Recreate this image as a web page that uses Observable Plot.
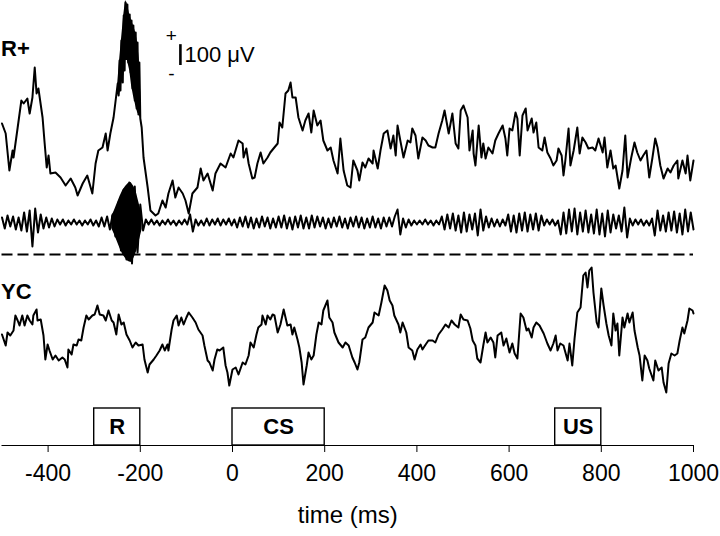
<!DOCTYPE html>
<html><head><meta charset="utf-8">
<script src="https://cdn.jsdelivr.net/npm/d3@7"></script>
<script src="https://cdn.jsdelivr.net/npm/@observablehq/plot@0.6"></script>
<style>body{margin:0;background:#fff}svg{display:block}</style>
</head><body><div id="chart"></div>
<script>
// ---- data (time in ms, amplitude in units of ~4.8 µV, relative to each trace's baseline) ----
const rPlusT = [-500,-492,-484,-477,-475,-466,-458,-453,-445,-440,-434,-429,-425,-421,-412,-408,-403,-399,-395,-384,-373,-362,-351,-341,-336,-325,-315,-304,-297,-291,-282,-275,-271,-265,-258,-249,
-247,-245,-243,-241,-238,-236,-234,-232,-230,-228,-226,-223,-221,-219,-217,-215,-212,-210,-208,-206,-204,-202,-200,-197,
-193,-184,-178,-167,-161,-152,-145,-139,-130,-124,-117,-108,-102,-95,-87,-76,-69,-63,-54,-43,-37,-26,-15,-4,2,13,22,24,30,35,43,48,54,61,67,76,82,89,98,102,108,115,121,126,130,137,143,152,158,165,171,176,184,191,197,206,213,219,228,234,241,249,256,262,271,275,282,288,295,304,306,315,321,328,336,343,349,354,358,364,371,380,386,390,397,403,412,419,425,434,440,447,455,460,469,477,484,490,495,501,510,514,521,523,527,534,540,544,549,555,564,570,577,586,592,596,601,607,614,618,623,629,636,640,649,653,659,664,672,677,683,690,696,703,707,714,718,722,729,733,740,748,753,759,766,772,781,787,794,803,807,813,820,826,831,839,846,852,857,865,872,878,885,891,898,904,911,917,922,928,935,944,950,957,965,967,976,983,987,993,1000];
const rPlusV = [77,67,30,50,43,73,100,97,102,87,103,133,107,112,83,60,33,45,27,28,23,15,22,13,5,17,25,7,37,50,53,67,50,67,83,117,
105,140,110,160,118,185,130,198,142,196,138,186,128,180,112,175,100,168,92,158,86,138,82,73,
43,13,-10,-15,-13,0,-7,7,20,3,13,7,0,-13,7,13,32,20,27,10,27,37,33,47,43,60,57,43,52,37,22,23,37,48,37,43,48,52,57,78,73,107,110,118,103,103,83,70,80,87,68,90,75,80,60,50,53,40,27,62,30,15,13,40,30,20,38,33,42,37,50,32,50,67,70,52,65,45,75,60,43,60,58,72,65,42,63,60,55,53,53,67,80,90,67,87,57,52,90,95,83,50,70,47,35,75,43,57,42,53,47,60,67,75,62,45,72,70,88,82,45,85,92,70,82,68,78,53,50,63,48,42,35,40,52,45,25,40,72,35,50,73,47,63,58,52,53,50,62,48,63,33,50,32,35,12,30,65,23,43,58,48,40,45,50,23,43,62,53,35,22,32,28,35,40,22,40,27,45,20,40];
// envelope of the ripple burst riding on R+ (upper / lower edge)
const rPlusBurstT = [-249,-245,-241,-236,-232,-228,-223,-219,-215,-210,-206,-202,-198];
const rPlusBurstHi = [117,140,160,185,200,196,186,180,175,168,158,140,95];
const rPlusBurstLo = [112,105,115,125,140,140,130,115,105,95,88,85,80];

const ycT = [-500,-492,-488,-482,-475,-471,-466,-462,-456,-451,-445,-440,-434,-432,-425,-423,-416,-410,-406,-401,-397,-390,-384,-377,-369,-364,-358,-356,-349,-345,-338,-334,-328,-323,-317,-312,-304,-299,-293,-288,-280,-275,-269,-262,-258,-252,-247,-241,-236,-230,-223,-217,-210,-204,-195,-191,-184,-180,-171,-165,-158,-152,-147,-141,-139,-132,-128,-121,-117,-111,-106,-100,-95,-87,-80,-74,-65,-61,-54,-50,-43,-39,-33,-28,-20,-15,-11,-7,0,7,13,22,28,35,39,46,52,56,63,65,72,76,82,87,91,98,104,111,119,126,130,134,141,145,150,154,161,165,171,176,182,187,193,197,206,210,217,221,230,239,245,252,260,265,271,275,282,288,295,304,308,317,323,330,336,341,347,351,360,364,369,377,382,390,395,401,408,412,419,425,434,440,447,455,462,469,475,482,490,495,501,510,516,521,527,531,538,544,549,553,560,566,570,575,583,588,594,601,607,612,618,625,631,638,642,649,653,659,666,675,679,683,690,696,701,705,711,718,727,731,737,742,748,755,761,766,770,774,779,783,790,794,800,805,811,816,822,826,831,835,839,846,850,857,861,868,872,879,883,889,894,900,904,913,917,924,931,935,941,946,952,959,965,970,976,980,987,991,998,1000];
const ycV = [46,35,48,45,50,65,60,55,65,55,65,60,56,65,71,60,61,45,21,36,30,21,25,20,23,21,13,31,26,36,35,41,40,53,65,61,65,66,75,66,65,60,70,60,58,46,66,56,58,46,40,33,38,35,36,21,8,16,21,25,30,36,30,36,30,51,60,65,55,63,56,63,68,63,58,51,45,35,20,18,10,21,31,30,33,15,8,-5,11,13,6,18,16,25,38,33,46,53,56,65,56,65,61,66,65,48,56,71,55,56,46,53,41,33,18,-4,15,28,21,25,46,58,56,70,80,63,58,48,38,33,38,35,23,18,11,18,41,43,53,58,68,65,78,95,90,80,75,65,56,48,58,48,33,30,21,31,36,31,36,40,40,38,46,51,56,53,60,56,53,66,61,60,52,40,35,22,18,35,48,38,43,38,23,45,48,35,42,28,37,27,22,67,63,50,52,43,53,58,55,47,42,37,30,37,45,30,37,35,20,37,15,42,68,73,105,108,93,110,113,88,58,53,92,75,57,45,35,67,50,57,25,63,53,67,58,68,50,33,25,0,25,20,12,0,20,10,13,-2,-12,17,27,25,27,40,53,47,60,72,70,67];

// band-pass filtered R+ signal, sampled every 6 ms from -500 ms
const filtStart = -500, filtStep = 6;
const filtV = [5,-6,7,-4,6,-7,5,-8,10,-9,
12,-24,14,-10,8,-6,5,-5,4,-4,
3,-2,3,-3,2,-2,3,-2,2,-3,
2,-2,3,-3,2,-4,5,-4,6,-7,
8,-14,20,-28,33,-37,40,-41,36,-30,
18,-8,3,-2,3,-2,2,-3,2,-2,
3,-2,2,-3,2,-2,3,-2,8,-9,
3,-3,2,-3,4,-3,3,-2,4,-3,
3,-2,4,-3,3,-5,5,-4,6,-5,
5,-6,4,-5,6,-4,5,-6,4,-5,
6,-5,7,-6,5,-7,6,-5,7,-6,
5,-6,7,-5,6,-4,5,-6,4,-5,
5,-4,6,-5,4,-6,5,-4,6,-5,
5,-6,4,-5,6,-5,4,-6,5,-4,
5,-4,6,13,-12,4,-5,3,-3,2,
-2,2,-2,3,-2,2,-3,2,-2,6,
-7,8,-6,9,-8,7,-10,10,-9,8,
-7,9,-13,13,-8,6,-5,4,-4,3,
-4,3,-3,8,-9,7,-10,9,-8,10,
-9,8,-7,9,-8,7,-3,3,-2,3,
-3,2,-12,10,-11,13,-9,14,-12,10,
-9,12,-10,8,-11,13,-12,9,-14,12,
-10,8,-6,7,-9,15,-15,4,-3,3,
-2,3,-3,2,-3,4,-13,12,-8,7,
-9,10,-8,11,-10,9,-12,13,-9,10,-7];
// envelope of the filtered ripple burst
const filtBurstT = [-262,-256,-250,-244,-238,-232,-226,-220,-214,-208,-202,-196];
const filtBurstAmp = [6,12,19,26,32,36,39,40,36,29,18,7];

const eventLabels = ["R", "CS", "US"];
const eventStart = [-300, 0, 700];
const eventEnd = [-200, 200, 800];
const xTicks = [-400, -200, 0, 200, 400, 600, 800, 1000];
const traceLabels = ["R+", "YC"];

// ---- layout constants (units above the time axis) ----
const UV_PER_UNIT = 4.8;
const base = {rPlus: 245, filt: 223, zero: 191, yc: 65};
const labelY = {"R+": 397, "YC": 154};
const boxHeight = 37;
const scaleBar = {t: -113, y0: 380, uv: 100};

const rPlus = rPlusT.map((t, i) => ({t, v: rPlusV[i] + base.rPlus}));
const rBurst = rPlusBurstT.map((t, i) => ({t, lo: rPlusBurstLo[i] + base.rPlus, hi: rPlusBurstHi[i] + base.rPlus}));
const yc = ycT.map((t, i) => ({t, v: ycV[i] + base.yc}));
const filt = filtV.map((v, i) => ({t: filtStart + i * filtStep, v: v + base.filt}));
const fBurst = filtBurstT.map((t, i) => ({t, lo: base.filt - filtBurstAmp[i], hi: base.filt + filtBurstAmp[i]}));
const events = eventLabels.map((label, i) => ({label, x1: eventStart[i], x2: eventEnd[i]}));
const font = "Liberation Sans, Arial, sans-serif";
const SW = 2;
const barTop = scaleBar.y0 + scaleBar.uv / UV_PER_UNIT;

const chart = Plot.plot({
  width: 720, height: 536,
  marginTop: 0, marginBottom: 91, marginLeft: 1.5, marginRight: 27,
  style: {fontFamily: font, background: "#fff", color: "#000"},
  x: {domain: [-500, 1000]},
  y: {domain: [0, 445], axis: null},
  marks: [
    Plot.areaY(rBurst, {x: "t", y1: "lo", y2: "hi", fill: "#000", curve: "linear"}),
    Plot.line(rPlus, {x: "t", y: "v", stroke: "#000", strokeWidth: SW, strokeLinejoin: "round"}),
    Plot.areaY(fBurst, {x: "t", y1: "lo", y2: "hi", fill: "#000", curve: "linear"}),
    Plot.line(filt, {x: "t", y: "v", stroke: "#000", strokeWidth: SW}),
    Plot.ruleY([base.zero], {stroke: "#000", strokeWidth: 1.8, strokeDasharray: "11,5"}),
    Plot.line(yc, {x: "t", y: "v", stroke: "#000", strokeWidth: SW, strokeLinejoin: "round"}),
    Plot.rect(events, {x1: "x1", x2: "x2", y1: 0, y2: boxHeight, fill: "#fff", stroke: "#000", strokeWidth: 1.4}),
    Plot.text(events, {x: d => (d.x1 + d.x2) / 2, y: boxHeight / 2, text: "label", fontSize: 22, fontWeight: "bold"}),
    Plot.ruleY([0], {stroke: "#000", strokeWidth: 1.2}),
    Plot.axisX({ticks: xTicks, tickSize: 7, tickPadding: 12, fontSize: 23, label: null, tickFormat: d => d < 0 ? "-" + Math.abs(d) : String(d)}),
    Plot.text(["time (ms)"], {frameAnchor: "bottom", dy: 77, fontSize: 24}),
    Plot.text(traceLabels, {x: -500, y: d => labelY[d], text: d => d, textAnchor: "start", dx: -1, fontSize: 22, fontWeight: "bold"}),
    Plot.ruleX([scaleBar.t], {y1: scaleBar.y0, y2: barTop, stroke: "#000", strokeWidth: 2.6}),
    Plot.text([scaleBar.uv + " μV"], {x: scaleBar.t, y: (scaleBar.y0 + barTop) / 2, textAnchor: "start", dx: 4, fontSize: 22}),
    Plot.text(["+"], {x: scaleBar.t, y: barTop, dx: -9, dy: -9, fontSize: 19}),
    Plot.text(["-"], {x: scaleBar.t, y: scaleBar.y0, dx: -9, dy: 8, fontSize: 19})
  ]
});
document.getElementById("chart").append(chart);
</script></body></html>
